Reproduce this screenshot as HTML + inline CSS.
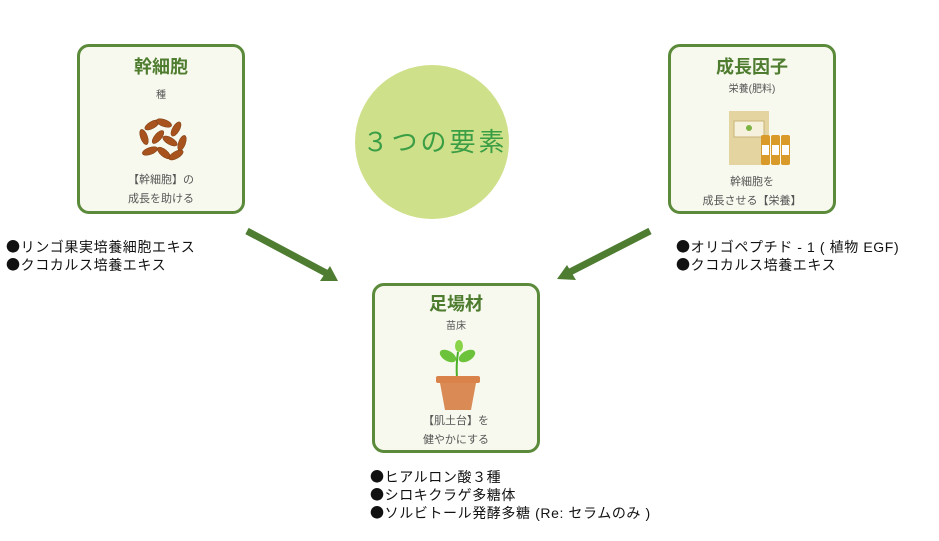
<!DOCTYPE html>
<html><head><meta charset="utf-8"><style>
body{margin:0;width:939px;height:541px;background:#fff;font-family:"Liberation Sans","Noto Sans CJK JP",sans-serif;position:relative;overflow:hidden}
.box{position:absolute;width:162px;height:164px;border:3px solid #5a8a3a;border-radius:12px;background:#f8f9ee;text-align:center;color:#555}
.t{font-size:18px;font-weight:bold;color:#4f7d30;margin-top:8px;line-height:24px}
.s{font-size:10px;line-height:14px}
.c{font-size:11px;line-height:19px;position:absolute;left:0;right:0}
.list{position:absolute;font-size:14px;line-height:18px;color:#111;letter-spacing:0.6px}
.b{font-family:"Noto Sans CJK JP",sans-serif}
</style></head><body>
<div class="box" style="left:77px;top:44px">
<div class="t">幹細胞</div>
<div class="s" style="margin-top:10px">種</div>
<svg width="60" height="50" style="position:absolute;left:52px;top:68px" viewBox="0 0 60 50">
<g fill="#a8531e" stroke="#7a3a10" stroke-width="0.5">
<ellipse cx="20" cy="10" rx="8" ry="3.5" transform="rotate(-30 20 10)"/>
<ellipse cx="32" cy="8" rx="8" ry="3.5" transform="rotate(20 32 8)"/>
<ellipse cx="44" cy="14" rx="8" ry="3.5" transform="rotate(-60 44 14)"/>
<ellipse cx="12" cy="22" rx="8" ry="3.5" transform="rotate(70 12 22)"/>
<ellipse cx="26" cy="22" rx="8" ry="3.5" transform="rotate(-50 26 22)"/>
<ellipse cx="38" cy="26" rx="8" ry="3.5" transform="rotate(30 38 26)"/>
<ellipse cx="50" cy="28" rx="8" ry="3.5" transform="rotate(-70 50 28)"/>
<ellipse cx="18" cy="36" rx="8" ry="3.5" transform="rotate(-20 18 36)"/>
<ellipse cx="32" cy="38" rx="8" ry="3.5" transform="rotate(40 32 38)"/>
<ellipse cx="44" cy="40" rx="8" ry="3.5" transform="rotate(-30 44 40)"/>
</g></svg>
<div class="c" style="top:124px">【幹細胞】の<br>成長を助ける</div>
</div>
<div class="box" style="left:668px;top:44px">
<div class="t">成長因子</div>
<div class="s" style="margin-top:4px">栄養(肥料)</div>
<svg width="66" height="58" style="position:absolute;left:55px;top:62px" viewBox="0 0 66 58">
<rect x="3" y="2" width="40" height="54" fill="#e3d4a0"/>
<rect x="8" y="12" width="30" height="16" fill="#f6f1dc" stroke="#c9b577"/>
<circle cx="23" cy="19" r="3" fill="#7cb342"/>
<rect x="35" y="26" width="9" height="30" rx="2" fill="#d99a2a"/>
<rect x="45" y="26" width="9" height="30" rx="2" fill="#d99a2a"/>
<rect x="55" y="26" width="9" height="30" rx="2" fill="#d99a2a"/>
<rect x="36" y="36" width="7" height="10" fill="#fff"/><rect x="46" y="36" width="7" height="10" fill="#fff"/><rect x="56" y="36" width="7" height="10" fill="#fff"/>
</svg>
<div class="c" style="top:126px">幹細胞を<br>成長させる【栄養】</div>
</div>
<div class="box" style="left:372px;top:283px">
<div class="t" style="margin-top:6px">足場材</div>
<div class="s" style="margin-top:4px">苗床</div>
<svg width="50" height="72" style="position:absolute;left:58px;top:54px" viewBox="0 0 50 72">
<path d="M24 38 Q23 25 25 12" stroke="#4caf2a" stroke-width="2" fill="none"/>
<ellipse cx="15" cy="16" rx="9" ry="5" fill="#6cc23a" transform="rotate(30 15 16)"/>
<ellipse cx="34" cy="16" rx="9" ry="5" fill="#6cc23a" transform="rotate(-30 34 16)"/>
<ellipse cx="26" cy="6" rx="4" ry="6" fill="#8ad44a"/>
<rect x="3" y="36" width="44" height="7" rx="2" fill="#d9824a"/>
<path d="M7 43 L43 43 L38 70 L12 70Z" fill="#d98a55"/>
</svg>
<div class="c" style="top:126px">【肌土台】を<br>健やかにする</div>
</div>
<div style="position:absolute;left:355px;top:65px;width:154px;height:154px;border-radius:50%;background:#cfe08a"></div>
<div style="position:absolute;left:358px;top:126px;width:154px;text-align:center;font-size:26px;color:#3a9e45;line-height:32px;letter-spacing:3px">３つの要素</div>
<svg width="939" height="541" style="position:absolute;left:0;top:0">
<g stroke="#4e7d32" stroke-width="7" fill="#4e7d32">
<line x1="247" y1="231" x2="326" y2="273"/>
<line x1="650" y1="231" x2="570" y2="272"/>
</g>
<polygon points="338,281 320,281 330,266" fill="#4e7d32"/>
<polygon points="557,279 567,265 576,280" fill="#4e7d32"/>
</svg>
<div class="list" style="left:6px;top:238px"><span class="b">●</span>リンゴ果実培養細胞エキス<br><span class="b">●</span>クコカルス培養エキス</div>
<div class="list" style="left:676px;top:238px"><span class="b">●</span>オリゴペプチド - 1 ( 植物 EGF)<br><span class="b">●</span>クコカルス培養エキス</div>
<div class="list" style="left:370px;top:468px"><span class="b">●</span>ヒアルロン酸３種<br><span class="b">●</span>シロキクラゲ多糖体<br><span class="b">●</span>ソルビトール発酵多糖 (Re: セラムのみ )</div>
</body></html>
